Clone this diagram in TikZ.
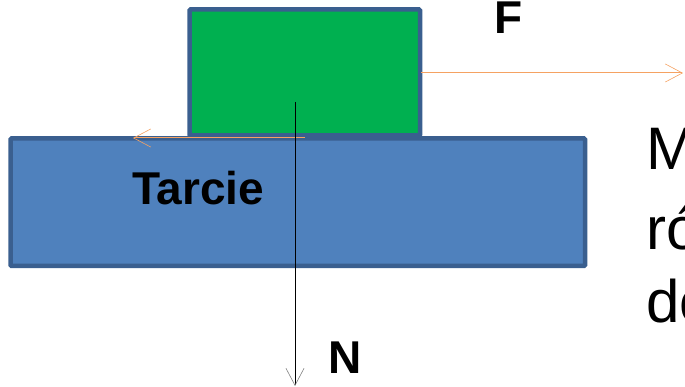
\documentclass[tikz,border=0pt]{standalone}
\usepackage{fontspec}
\setmainfont{Liberation Sans}
\usetikzlibrary{arrows.meta}
\definecolor{boxedge}{HTML}{3A5F8F}
\definecolor{greenfill}{HTML}{00B050}
\definecolor{bluefill}{HTML}{4F81BD}
\definecolor{forceorange}{HTML}{F5A262}
\begin{document}
\begin{tikzpicture}[x=1pt,y=-1pt,
  block/.style={draw=boxedge, line width=4.5pt, rounded corners=1pt, inner sep=0pt, outer sep=0pt, anchor=north west},
  force/.style={draw=forceorange, line width=1pt, -{Straight Barb[length=17pt,width=18pt,line width=0.6pt]}},
  normal/.style={draw=black, line width=1pt, -{Straight Barb[length=17pt,width=18pt,line width=0.6pt,color=gray]}},
  label/.style={inner sep=0pt, anchor=base west, font=\fontsize{46}{55}\selectfont\bfseries},
  side/.style={inner sep=0pt, anchor=base west, font=\fontsize{60}{72}\selectfont}]
\useasboundingbox (0,0) rectangle (685,387);
\clip (0,0) rectangle (685,387);
\node[block, fill=greenfill, minimum width=230.5pt, minimum height=126pt] (body) at (189.5,9.5) {};
\node[block, fill=bluefill, minimum width=574.5pt, minimum height=127.5pt] (table) at (10.5,138.5) {};
\node[label] (tarcie) at (132,205) {Tarcie};
\node[label] (flabel) at (494,34) {F};
\node[label] (nlabel) at (328,373) {N};
\node[side] (line1) at (646,170) {M};
\node[side] (line2) at (646,250) {ró};
\node[side] (line3) at (646,322) {do};
\coordinate (fstart) at (421,73);
\coordinate (fend) at (683,73);
\coordinate (tstart) at (305,138);
\coordinate (tend) at (133,138);
\coordinate (nstart) at (295,102);
\coordinate (nend) at (295,386);
\draw[force] (fstart) -- (fend);
\draw[force] (tstart) -- (tend);
\draw[normal] (nstart) -- (nend);
\end{tikzpicture}
\end{document}
